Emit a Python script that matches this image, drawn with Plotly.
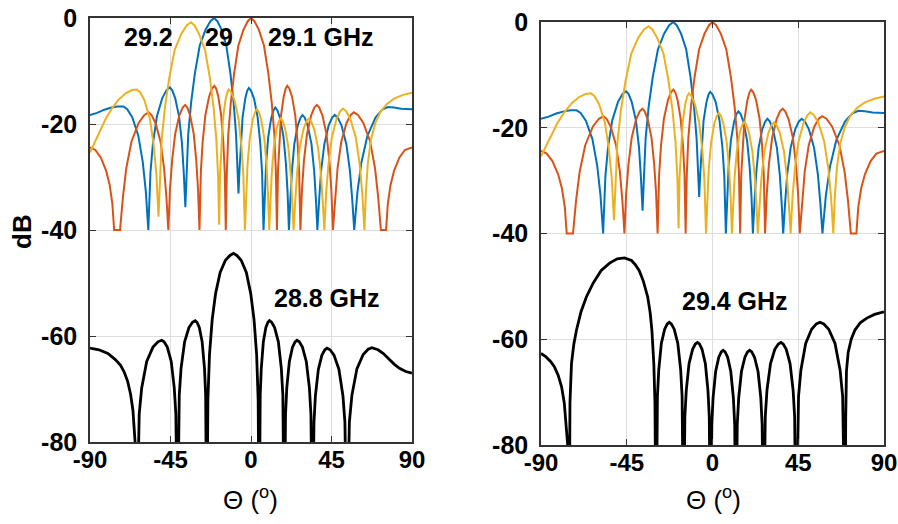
import plotly.graph_objects as go

# Beam patterns (theta in degrees, level in dB); upper traces are clipped at -40 dB
BEAM_29_0 = [
    (-90, -18.3), (-86, -17.9), (-82, -17.3), (-78, -16.9), (-74.5, -16.7), (-71.3, -16.7),
    (-69.2, -17.2), (-66.4, -18.7), (-63.0, -22.2), (-60.5, -27.2), (-58.8, -32.7), (-57.4, -40),
    (-56.2, -29.1), (-54.8, -23.6), (-52.6, -18.6), (-49.6, -15.1), (-47.2, -13.6), (-45.4, -13.1),
    (-44.1, -13.6), (-42.4, -15.1), (-40.2, -18.6), (-38.6, -23.6), (-37.6, -29.1), (-36.7, -35.7),
    (-36.1, -30.5), (-35.1, -22), (-33.5, -16), (-31.4, -10.5), (-28.65, -5.2), (-25.4, -2.2),
    (-22.7, -0.6), (-20.6, 0), (-18.8, -0.6), (-16.5, -2.2), (-13.8, -5.2), (-11.5, -10.5),
    (-9.7, -16), (-8.35, -22), (-7.55, -28.5), (-7.0, -33.1),
    (-6.4, -28.5), (-5.7, -23.7), (-4.7, -18.7), (-3.2, -15.2), (-2.1, -13.7), (-1.2, -13.2),
    (0.0, -13.7), (1.7, -15.2), (3.7, -18.7), (5.2, -23.7), (6.2, -29.2), (7.0, -40),
    (7.7, -32.9), (8.45, -27.4), (9.65, -22.4), (11.3, -18.9), (12.6, -17.4), (13.6, -16.9),
    (14.75, -17.4), (16.25, -18.9), (18.15, -22.4), (19.5, -27.4), (20.45, -32.9), (21.2, -40),
    (22.0, -34.3), (22.9, -28.8), (24.2, -23.8), (26.1, -20.3), (27.7, -18.8), (28.8, -18.3),
    (30.05, -18.8), (31.7, -20.3), (33.8, -23.8), (35.3, -28.8), (36.3, -34.3), (37.1, -40),
    (38.1, -34.3), (39.2, -28.8), (41.0, -23.8), (43.4, -20.3), (45.35, -18.8), (46.8, -18.3),
    (48.45, -18.8), (50.6, -20.3), (53.3, -23.8), (55.3, -28.8), (56.6, -34.3), (57.7, -40),
    (59.5, -32.8), (61.7, -27.3), (65.0, -22.3), (69.6, -18.8), (73.3, -17.3), (76.5, -16.8),
    (80, -16.9), (84, -17.1), (90, -17.2),
]

BEAM_29_1 = [
    (-90, -24.4), (-87, -24.9), (-84, -26.3), (-81, -28.8), (-79, -31.5), (-77.5, -35),
    (-76.5, -40), (-73.2, -40),
    (-71.6, -33.8), (-69.7, -28.3), (-66.8, -23.3), (-62.8, -19.8), (-59.6, -18.3), (-57.2, -17.8),
    (-55.6, -18.3), (-53.4, -19.8), (-50.6, -23.3), (-48.6, -28.3), (-47.3, -33.8), (-46.2, -40),
    (-45.3, -32.4), (-44.1, -26.9), (-42.4, -21.9), (-40.1, -18.4), (-38.2, -16.9), (-36.8, -16.4),
    (-35.6, -16.9), (-34.0, -18.4), (-32.0, -21.9), (-30.6, -26.9), (-29.6, -32.4), (-28.8, -40),
    (-28.0, -28.8), (-27.0, -23.3), (-25.5, -18.3), (-23.4, -14.8), (-21.8, -13.3), (-20.5, -12.8),
    (-19.5, -13.3), (-18.3, -14.8), (-16.7, -18.3), (-15.5, -23.3), (-14.7, -28.8), (-14.1, -40),
    (-13.5, -29), (-12.7, -22), (-11.3, -16), (-9.45, -10.5), (-7.05, -5.2), (-4.2, -2.2),
    (-1.8, -0.6), (0, 0), (1.9, -0.6), (4.35, -2.2), (7.25, -5.2), (9.7, -10.5),
    (11.6, -16), (13.05, -22), (13.9, -29), (14.5, -40),
    (15.1, -28.8), (15.8, -23.3), (16.8, -18.3), (18.3, -14.8), (19.4, -13.3), (20.3, -12.8),
    (21.4, -13.3), (22.9, -14.8), (24.7, -18.3), (26.0, -23.3), (26.9, -28.8), (27.6, -40),
    (28.5, -32.4), (29.6, -26.9), (31.3, -21.9), (33.6, -18.4), (35.4, -16.9), (36.8, -16.4),
    (38.15, -16.9), (39.95, -18.4), (42.2, -21.9), (43.8, -26.9), (44.9, -32.4), (45.8, -40),
    (47.0, -33.8), (48.4, -28.3), (50.5, -23.3), (53.4, -19.8), (55.75, -18.3), (57.5, -17.8),
    (59.8, -18.3), (62.8, -19.8), (66.6, -23.3), (69.3, -28.3), (71.1, -33.8), (72.6, -40),
    (75.5, -40), (76.5, -35), (78, -31.5), (80, -28.8), (83, -26.3), (86, -24.9), (90, -24.4),
]

BEAM_29_2 = [
    (-90, -25.4), (-87.5, -23.6), (-84.5, -21.2), (-81.5, -19.2), (-78, -17.2), (-74, -15.4),
    (-70, -14.2), (-66.5, -13.6), (-63.8, -13.5),
    (-62.0, -14.0), (-59.6, -15.5), (-56.5, -19.0), (-54.4, -24.0), (-52.9, -29.5), (-51.7, -37.5),
    (-51.0, -30.5), (-49.9, -22.8), (-48.1, -16.8), (-45.7, -11.3), (-42.65, -6.0), (-39.0, -3.0),
    (-35.95, -1.4), (-33.6, -0.8), (-31.55, -1.4), (-29.05, -3.0), (-25.7, -6.0), (-23.0, -11.3),
    (-20.95, -16.8), (-19.4, -22.8), (-18.4, -29.8), (-17.8, -39),
    (-17.3, -29.5), (-16.6, -24.0), (-15.65, -19.0), (-14.3, -15.5), (-13.2, -14.0), (-12.4, -13.5),
    (-11.05, -14.0), (-9.25, -15.5), (-7.0, -19.0), (-5.4, -24.0), (-4.3, -29.5), (-3.4, -40),
    (-2.75, -33.2), (-1.95, -27.7), (-0.7, -22.7), (0.95, -19.2), (2.3, -17.7), (3.3, -17.2),
    (4.35, -17.7), (5.7, -19.2), (7.45, -22.7), (8.7, -27.7), (9.5, -33.2), (10.2, -40),
    (10.85, -34.9), (11.6, -29.4), (12.75, -24.4), (14.35, -20.9), (15.65, -19.4), (16.6, -18.9),
    (17.7, -19.4), (19.1, -20.9), (20.9, -24.4), (22.2, -29.4), (23.1, -34.9), (23.8, -40),
    (24.65, -35), (25.7, -29.5), (27.2, -24.5), (29.3, -21), (31.0, -19.5), (32.3, -19.0),
    (33.6, -19.5), (35.35, -21), (37.5, -24.5), (39.1, -29.5), (40.15, -35), (41.0, -40),
    (42.0, -33.1), (43.3, -27.6), (45.15, -22.6), (47.75, -19.1), (49.85, -17.6), (51.4, -17.1),
    (53.2, -17.6), (55.6, -19.1), (58.6, -22.6), (60.75, -27.6), (62.2, -33.1), (63.4, -40),
    (64.2, -33), (65.3, -27.5), (67, -23), (69.5, -19.8), (72.5, -17.6), (76, -16.2),
    (80, -15.2), (85, -14.5), (90, -14.1),
]

BEAM_28_8 = [
    (-90, -62.3), (-85, -62.6), (-80, -63.3), (-76, -64.4), (-73, -65.5), (-71, -66.7),
    (-69, -68.5), (-67.3, -71), (-66, -74), (-65, -78), (-64.4, -82), (-63.9, -100),
    (-62.5, -74.8), (-61.1, -69.8), (-58.3, -64.8), (-54.8, -62.1), (-52.0, -61.1), (-49.9, -60.8),
    (-48.6, -61.1), (-46.8, -62.1), (-44.6, -64.8), (-42.9, -69.8), (-42.0, -74.8), (-41.1, -100),
    (-40.1, -71.1), (-39.1, -66.1), (-37.1, -61.1), (-34.7, -58.4), (-32.7, -57.4), (-31.2, -57.1),
    (-30.2, -57.4), (-28.9, -58.4), (-27.3, -61.1), (-26.0, -66.1), (-25.35, -71.1), (-24.7, -100),
    (-24.1, -72), (-23.2, -63.5), (-21.7, -56.9), (-19.8, -52.0), (-17.25, -48.0), (-14.3, -45.7),
    (-11.75, -44.8), (-9.8, -44.4), (-7.9, -44.8), (-5.5, -45.7), (-2.6, -48.0), (-0.15, -52.0),
    (1.7, -56.9), (3.15, -63.5), (4.0, -72), (4.6, -100),
    (5.15, -71.1), (5.75, -66.1), (6.9, -61.1), (8.3, -58.4), (9.45, -57.4), (10.3, -57.1),
    (11.55, -57.4), (13.2, -58.4), (15.3, -61.1), (16.95, -66.1), (17.8, -71.1), (18.6, -100),
    (19.3, -74.8), (20.0, -69.8), (21.45, -64.8), (23.2, -62.1), (24.65, -61.1), (25.7, -60.8),
    (27.0, -61.1), (28.75, -62.1), (30.9, -64.8), (32.65, -69.8), (33.5, -74.8), (34.4, -100),
    (35.2, -76.3), (36.0, -71.3), (37.65, -66.3), (39.65, -63.6), (41.3, -62.6), (42.5, -62.3),
    (44.2, -62.6), (46.4, -63.6), (49.15, -66.3), (51.4, -71.3), (52.5, -76.3), (53.6, -100),
    (55.0, -76.2), (56.4, -71.2), (59.2, -66.2), (62.7, -63.5), (65.5, -62.5), (67.6, -62.2),
    (71, -62.6), (74, -63.3), (77, -64.3), (80, -65.3), (83, -66.1), (86.5, -66.7), (90, -67.0),
]

BEAM_29_4 = [
    (-90, -62.7), (-87.5, -63.3), (-85, -64.2), (-83, -65.2), (-81, -66.8), (-79.2, -69),
    (-77.8, -72), (-76.7, -76), (-76, -80), (-75.2, -100),
    (-74.8, -72), (-74.0, -64.6), (-72.8, -61), (-71.4, -58.3), (-69, -54.8), (-66.2, -52.0),
    (-62.5, -49.3), (-58.4, -47.0), (-54, -45.6), (-50, -44.8), (-46.2, -44.6), (-42.5, -45.1),
    (-40.5, -45.9), (-38.5, -47.0), (-36.3, -49.0), (-34, -52.0), (-32.7, -55), (-31.8, -58.3),
    (-30.8, -64.6), (-30.2, -72), (-29.6, -100),
    (-28.9, -70.8), (-28.2, -65.8), (-26.85, -60.8), (-25.1, -58.1), (-23.75, -57.1), (-22.7, -56.8),
    (-21.6, -57.1), (-20.1, -58.1), (-18.2, -60.8), (-16.7, -65.8), (-15.95, -70.8), (-15.2, -100),
    (-14.5, -74.6), (-13.75, -69.6), (-12.3, -64.6), (-10.45, -61.9), (-9.0, -60.9), (-7.9, -60.6),
    (-6.85, -60.9), (-5.5, -61.9), (-3.75, -64.6), (-2.4, -69.6), (-1.7, -74.6), (-1.0, -100),
    (-0.35, -76.1), (0.3, -71.1), (1.65, -66.1), (3.3, -63.4), (4.6, -62.4), (5.6, -62.1),
    (6.6, -62.4), (7.95, -63.4), (9.6, -66.1), (10.95, -71.1), (11.65, -76.1), (12.3, -100),
    (13.0, -76.1), (13.75, -71.1), (15.2, -66.1), (17.0, -63.4), (18.4, -62.4), (19.5, -62.1),
    (20.6, -62.4), (22.05, -63.4), (23.9, -66.1), (25.35, -71.1), (26.05, -76.1), (26.8, -100),
    (27.7, -74.6), (28.6, -69.6), (30.45, -64.6), (32.7, -61.9), (34.55, -60.9), (35.9, -60.6),
    (37.1, -60.9), (38.7, -61.9), (40.7, -64.6), (42.3, -69.6), (43.1, -74.6), (43.9, -100),
    (45.15, -70.8), (46.4, -65.8), (48.9, -60.8), (52.0, -58.1), (54.5, -57.1), (56.4, -56.8),
    (58.4, -57.1), (61.0, -58.1), (64.3, -60.8), (66.95, -65.8), (68.3, -70.8), (69.6, -100),
    (69.9, -75), (70.3, -66), (71.2, -62.5), (72.8, -60), (74.7, -58.3), (77.5, -56.9),
    (81, -56.0), (85, -55.3), (90, -54.8),
]

X_TICKS = [-90, -45, 0, 45, 90]
Y_TICKS = [0, -20, -40, -60, -80]
X_TICK_TEXT = ["-90", "-45", "0", "45", "90"]
Y_TICK_TEXT = ["0", "-20", "-40", "-60", "-80"]

BLUE, ORANGE, YELLOW = "#0072BD", "#D95319", "#EDB120"
FONT = "Liberation Sans, Arial, sans-serif"
W, H = 898, 524

fig = go.Figure()


def add_curve(pairs, color, width, xa, ya):
    th = [p[0] for p in pairs]
    db = [p[1] for p in pairs]
    fig.add_trace(go.Scatter(x=th, y=db, mode="lines", xaxis=xa, yaxis=ya,
                             line=dict(color=color, width=width),
                             showlegend=False, hoverinfo="skip"))


for xa, ya, lower in (("x", "y", BEAM_28_8), ("x2", "y2", BEAM_29_4)):
    add_curve(BEAM_29_0, BLUE, 2, xa, ya)
    add_curve(BEAM_29_1, ORANGE, 2, xa, ya)
    add_curve(BEAM_29_2, YELLOW, 2, xa, ya)
    add_curve(lower, "black", 2.8, xa, ya)

axis_common = dict(
    automargin=False, ticklabeloverflow="allow",
    showline=True, linecolor="#333333", linewidth=1.5, mirror="ticks",
    ticks="inside", ticklen=6, tickcolor="#333333", tickwidth=1.2,
    showgrid=True, gridcolor="#dedede", gridwidth=1, zeroline=False,
)
x_common = dict(range=[-90, 90], tickvals=X_TICKS, ticktext=X_TICK_TEXT,
                ticklabelstandoff=-5,
                tickfont=dict(family=FONT, size=24, color="black", weight="bold"),
                **axis_common)
y_common = dict(range=[-80, 0], tickvals=Y_TICKS, ticktext=Y_TICK_TEXT,
                ticklabelstandoff=6,
                tickfont=dict(family=FONT, size=25, color="black", weight="bold"),
                **axis_common)

# plot-area pixel boxes: (left, right, top, bottom)
boxes = [(90, 412, 18, 442), (541, 884, 22, 445)]


def xdom(b):
    return [b[0] / W, b[1] / W]


def ydom(b):
    return [1 - b[3] / H, 1 - b[2] / H]


fig.update_layout(
    template="none",
    width=W, height=H, autosize=False,
    margin=dict(l=0, r=0, t=0, b=0, pad=0, autoexpand=False),
    paper_bgcolor="white", plot_bgcolor="white",
    xaxis=dict(domain=xdom(boxes[0]), anchor="y", **x_common),
    yaxis=dict(domain=ydom(boxes[0]), anchor="x", **y_common),
    xaxis2=dict(domain=xdom(boxes[1]), anchor="y2", **x_common),
    yaxis2=dict(domain=ydom(boxes[1]), anchor="x2", **y_common),
)


def label(text, x, y, size=25, bold=True, angle=0):
    fig.add_annotation(text=text, x=x / W, y=1 - y / H, xref="paper", yref="paper",
                       showarrow=False, textangle=angle, xanchor="center", yanchor="middle",
                       font=dict(family=FONT, size=size, color="black",
                                 weight="bold" if bold else "normal"))


label("29.2", 148, 37)
label("29", 219, 37)
label("29.1 GHz", 321, 37)
label("28.8 GHz", 327, 298)
label("29.4 GHz", 735, 301)
label("dB", 22, 232, size=26, angle=-90)
label("Θ (<sup>o</sup>)", 251, 498, size=26, bold=False)
label("Θ (<sup>o</sup>)", 713, 498, size=26, bold=False)

fig.write_html("out.html")
